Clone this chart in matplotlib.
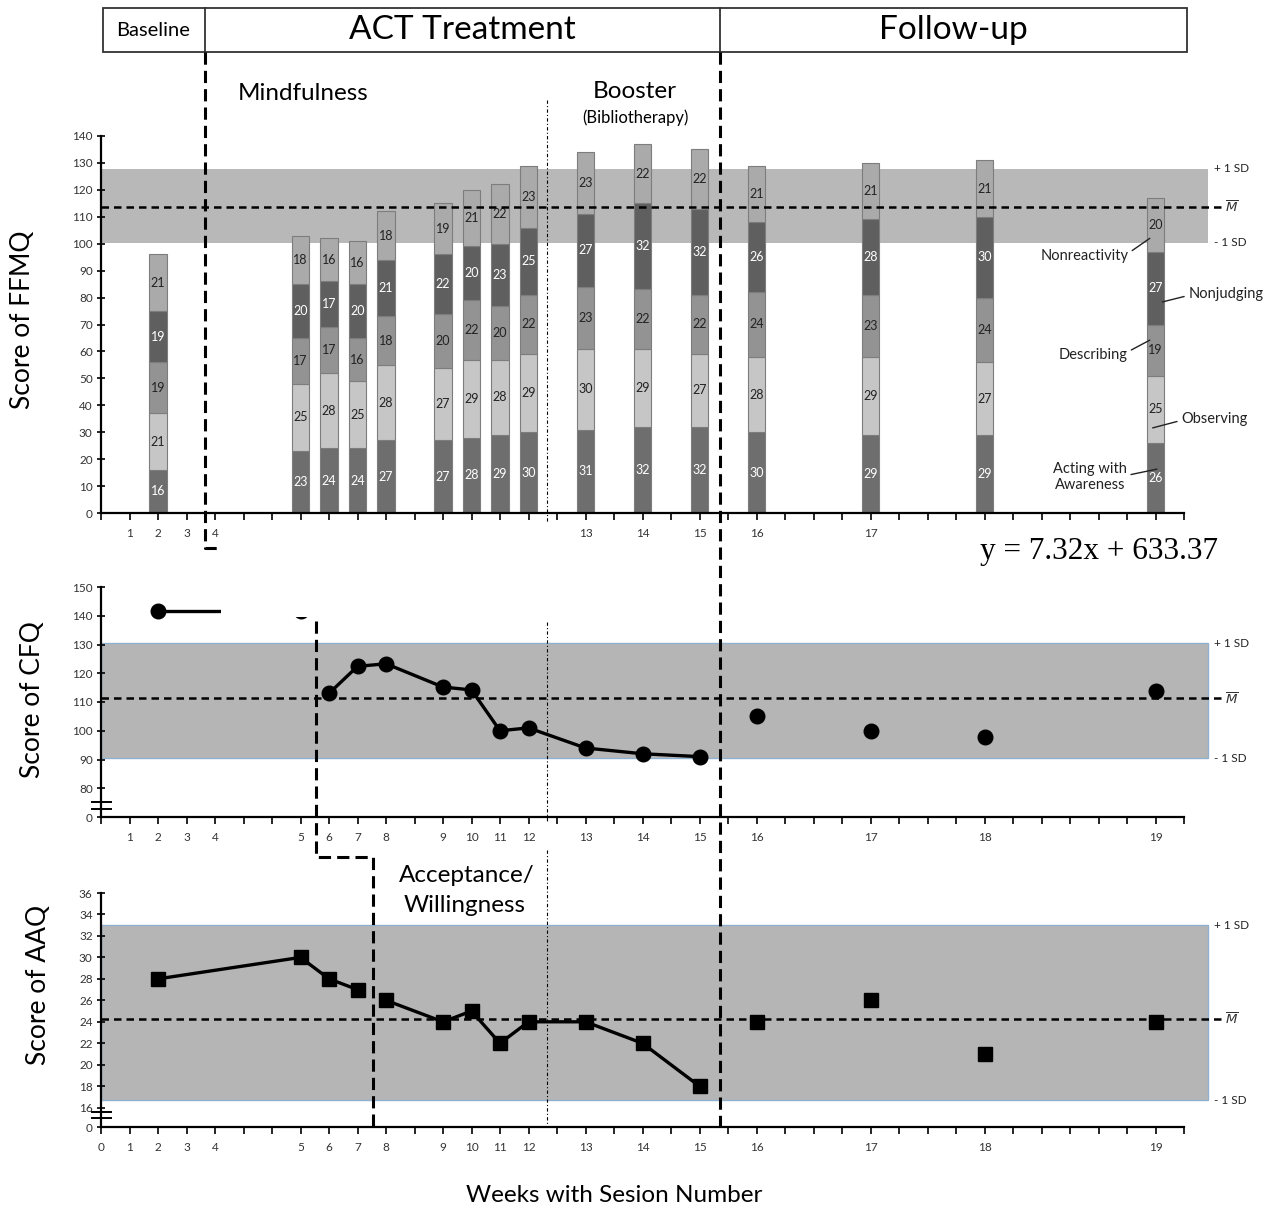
import matplotlib
matplotlib.use("Agg")
import matplotlib.pyplot as plt
from matplotlib.patches import Rectangle
from matplotlib.lines import Line2D

plt.rcParams['font.family'] = ['Lato', 'DejaVu Sans']

W, H = 1269, 1209

# where each session sits on the shared week axis (one tick = one week)
sessions = list(range(1, 20))
week_pos = [1, 2, 3, 4, 7, 8, 9, 10, 12, 13, 14, 15, 17, 19, 21, 23, 27, 31, 37]
pos = dict(zip(sessions, week_pos))

# FFMQ facet scores, stacked bottom to top
ffmq_sessions = [2, 5, 6, 7, 8, 9, 10, 11, 12, 13, 14, 15, 16, 17, 18, 19]
acting = [16, 23, 24, 24, 27, 27, 28, 29, 30, 31, 32, 32, 30, 29, 29, 26]
observing = [21, 25, 28, 25, 28, 27, 29, 28, 29, 30, 29, 27, 28, 29, 27, 25]
describing = [19, 17, 17, 16, 18, 20, 22, 20, 22, 23, 22, 22, 24, 23, 24, 19]
nonjudging = [19, 20, 17, 20, 21, 22, 20, 23, 25, 27, 32, 32, 26, 28, 30, 27]
nonreact = [21, 18, 16, 16, 18, 19, 21, 22, 23, 23, 22, 22, 21, 21, 21, 20]
ffmq_mean, ffmq_lo, ffmq_hi = 113.6, 100.4, 127.8

# CFQ
cfq_base_s = [2, 5]
cfq_base = [141.5, 141.5]
cfq_treat_s = [6, 7, 8, 9, 10, 11, 12, 13, 14, 15]
cfq_treat = [113, 122.4, 123.3, 115.2, 114.2, 100, 101, 94, 92, 91]
cfq_follow_s = [16, 17, 18, 19]
cfq_follow = [105, 100, 98, 114]
cfq_mean, cfq_lo, cfq_hi = 111.3, 90.4, 130.5

# AAQ
aaq_a_s = [2, 5, 6, 7]
aaq_a = [28, 30, 28, 27]
aaq_b_s = [8, 9, 10, 11, 12, 13, 14, 15]
aaq_b = [26, 24, 25, 22, 24, 24, 22, 18]
aaq_follow_s = [16, 17, 18, 19]
aaq_follow = [24, 26, 21, 24]
aaq_mean, aaq_lo, aaq_hi = 24.3, 16.7, 33.0

fig = plt.figure(figsize=(W / 100, H / 100), dpi=100)


def fx(px):
    return px / W


def fy(py):
    return 1 - py / H


def axes_at(top, bottom):
    return fig.add_axes([fx(101), fy(bottom), 1140 / W, (bottom - top) / H])


def style(ax, ticks, labels, yticks, ylabels):
    ax.set_xlim(0, 40)
    for s in ['top', 'right']:
        ax.spines[s].set_visible(False)
    ax.spines['bottom'].set_bounds(0, 38)
    ax.spines['left'].set_linewidth(1.6)
    ax.spines['bottom'].set_linewidth(1.6)
    ax.set_xticks(ticks)
    ax.set_xticklabels(labels)
    ax.set_xticks(range(0, 39), minor=True)
    ax.tick_params(axis='x', which='both', direction='out', length=5, width=1.2,
                   labelsize=8.5, labelcolor='#333333', pad=6)
    ax.set_yticks(yticks)
    ax.set_yticklabels(ylabels)
    ax.tick_params(axis='y', direction='inout', length=6, width=1.2,
                   labelsize=8.5, labelcolor='#333333', pad=3)


def sd_labels(ax, lo, mean, hi):
    ax.text(39.05, hi, '+ 1 SD', fontsize=8.5, va='center', color='#222222', clip_on=False)
    ax.text(39.45, mean, r'$\overline{M}$', fontsize=9.5, va='center', color='#333333', clip_on=False)
    ax.text(39.05, lo, '- 1 SD', fontsize=8.5, va='center', color='#222222', clip_on=False)
    ax.plot([0, 39.3], [mean, mean], color='black', lw=1.8, dashes=(3, 2), zorder=5, clip_on=False)


# ---------- FFMQ ----------
ax1 = axes_at(136, 513)
ax1.set_ylim(0, 140)
style(ax1, [1, 2, 3, 4, 17, 19, 21, 23, 27], ['1', '2', '3', '4', '13', '14', '15', '16', '17'],
      range(0, 141, 10), [str(v) for v in range(0, 141, 10)])
ax1.add_patch(Rectangle((0, ffmq_lo), 38.85, ffmq_hi - ffmq_lo, facecolor='#b8b8b8',
                        edgecolor='none', zorder=0, clip_on=False))
sd_labels(ax1, ffmq_lo, ffmq_mean, ffmq_hi)

bx = [pos[s] for s in ffmq_sessions]
layers = [(acting, '#6e6e6e', 'white'), (observing, '#c6c6c6', '#222222'),
          (describing, '#939393', '#222222'), (nonjudging, '#5f5f5f', 'white'),
          (nonreact, '#aaaaaa', '#222222')]
bottom = [0] * len(bx)
for vals, col, tcol in layers:
    bars = ax1.bar(bx, vals, bottom=bottom, width=0.62, color=col, edgecolor='#7d7d7d',
                   linewidth=0.8, zorder=2)
    ax1.bar_label(bars, labels=[str(v) for v in vals], label_type='center',
                  fontsize=9, color=tcol)
    bottom = [b + v for b, v in zip(bottom, vals)]

ann = dict(fontsize=10.5, color='#222222', annotation_clip=False)
arrow = dict(arrowstyle='-', lw=1, color='#222222', shrinkA=1, shrinkB=0)
ax1.annotate('Nonreactivity', xy=(36.8, 102), xytext=(34.5, 95.4), ha='center', va='center',
             arrowprops=dict(arrow, relpos=(1, 0.7)), **ann)
ax1.annotate('Nonjudging', xy=(37.25, 78.4), xytext=(38.15, 81.3), ha='left', va='center',
             arrowprops=dict(arrow, relpos=(0, 0.4)), **ann)
ax1.annotate('Describing', xy=(36.8, 64.2), xytext=(34.8, 58.7), ha='center', va='center',
             arrowprops=dict(arrow, relpos=(1, 0.7)), **ann)
ax1.annotate('Observing', xy=(36.9, 31.6), xytext=(37.9, 34.9), ha='left', va='center',
             arrowprops=dict(arrow, relpos=(0, 0.4)), **ann)
ax1.annotate('Acting with\nAwareness', xy=(37.05, 16.3), xytext=(34.7, 13.4), ha='center',
             va='center', arrowprops=dict(arrow, relpos=(1, 0.55)), **ann)

# ---------- CFQ ----------
ax2 = axes_at(587, 817)
ax2.set_ylim(70, 150)
style(ax2, week_pos, [str(s) for s in sessions],
      range(70, 151, 10), ['0'] + [str(v) for v in range(80, 151, 10)])
ax2.add_patch(Rectangle((0, cfq_lo), 38.85, cfq_hi - cfq_lo, facecolor='#b5b5b5',
                        edgecolor='#8fb1cf', lw=1, zorder=0, clip_on=False))
sd_labels(ax2, cfq_lo, cfq_mean, cfq_hi)
mk = dict(color='black', marker='o', markersize=10.5, lw=2.4, zorder=4)
ax2.plot([pos[s] for s in cfq_base_s], cfq_base, **mk)
ax2.plot([pos[s] for s in cfq_treat_s], cfq_treat, **mk)
ax2.plot([pos[s] for s in cfq_follow_s], cfq_follow, ls='none', **mk)
for yy in (75.2, 72.8):
    ax2.plot([-0.3, 0.35], [yy, yy], color='black', lw=1.4, clip_on=False)

# ---------- AAQ ----------
ax3 = axes_at(893, 1127)
ax3.set_ylim(14.2, 36)
style(ax3, [0] + week_pos, ['0'] + [str(s) for s in sessions],
      [14.2] + list(range(16, 37, 2)), ['0'] + [str(v) for v in range(16, 37, 2)])
ax3.add_patch(Rectangle((0, aaq_lo), 38.85, aaq_hi - aaq_lo, facecolor='#b5b5b5',
                        edgecolor='#8fb1cf', lw=1, zorder=0, clip_on=False))
sd_labels(ax3, aaq_lo, aaq_mean, aaq_hi)
mk = dict(color='black', marker='s', markersize=10.5, lw=2.4, zorder=4)
ax3.plot([pos[s] for s in aaq_a_s], aaq_a, **mk)
ax3.plot([pos[s] for s in aaq_b_s], aaq_b, **mk)
ax3.plot([pos[s] for s in aaq_follow_s], aaq_follow, ls='none', **mk)
for yy in (15.6, 15.05):
    ax3.plot([-0.3, 0.35], [yy, yy], color='black', lw=1.4, clip_on=False)


# ---------- phase boxes and phase lines (figure pixels) ----------
def fline(xs, ys, **kw):
    fig.add_artist(Line2D([fx(x) for x in xs], [fy(y) for y in ys], **kw))


fig.add_artist(Rectangle((fx(103), fy(52)), (1187 - 103) / W, 44 / H, fill=False,
                         edgecolor='#333333', lw=1.3, zorder=6))
fline([205, 205], [8, 52], color='#333333', lw=1.3, zorder=6)
fline([720, 720], [8, 52], color='#333333', lw=1.3, zorder=6)

dash = dict(color='black', lw=2.2, dashes=(4, 2), zorder=7)
fline([205, 205, 221], [52, 548, 548], **dash)
fig.add_artist(Rectangle((fx(221), fy(617)), (316 - 221) / W, (617 - 548) / H,
                         facecolor='white', edgecolor='none', zorder=6))
fline([316, 316, 373, 373], [621, 857, 857, 1127], **dash)
fline([720, 720], [52, 1127], **dash)

dot = dict(color='black', lw=0.8, dashes=(3, 2, 1, 2), zorder=7)
fline([547, 547], [100, 522], **dot)
fline([547, 547], [622, 822], **dot)
fline([547, 547], [850, 1127], **dot)

fig.text(fx(153), fy(30), 'Baseline', fontsize=14.5, ha='center', va='center')
fig.text(fx(462), fy(30), 'ACT Treatment', fontsize=24, ha='center', va='center')
fig.text(fx(953), fy(30), 'Follow-up', fontsize=24, ha='center', va='center')
fig.text(fx(303), fy(93), 'Mindfulness', fontsize=17.5, ha='center', va='center')
fig.text(fx(635), fy(92), 'Booster', fontsize=17.5, ha='center', va='center')
fig.text(fx(635), fy(118), '(Bibliotherapy)', fontsize=12, ha='center', va='center')
fig.text(fx(467), fy(875), 'Acceptance/', fontsize=17.5, ha='center', va='center')
fig.text(fx(465), fy(906), 'Willingness', fontsize=17.5, ha='center', va='center')
fig.text(fx(1099), fy(551), 'y = 7.32x + 633.37', fontsize=22.5, ha='center', va='center',
         family='Liberation Serif')
fig.text(fx(614), fy(1196), 'Weeks with Sesion Number', fontsize=17.5, ha='center', va='center')
fig.text(fx(23), fy(320), 'Score of FFMQ', fontsize=19, rotation=90, ha='center', va='center')
fig.text(fx(33), fy(700), 'Score of CFQ', fontsize=19, rotation=90, ha='center', va='center')
fig.text(fx(39), fy(985), 'Score of AAQ', fontsize=19, rotation=90, ha='center', va='center')

fig.savefig('out.png', dpi=100)
